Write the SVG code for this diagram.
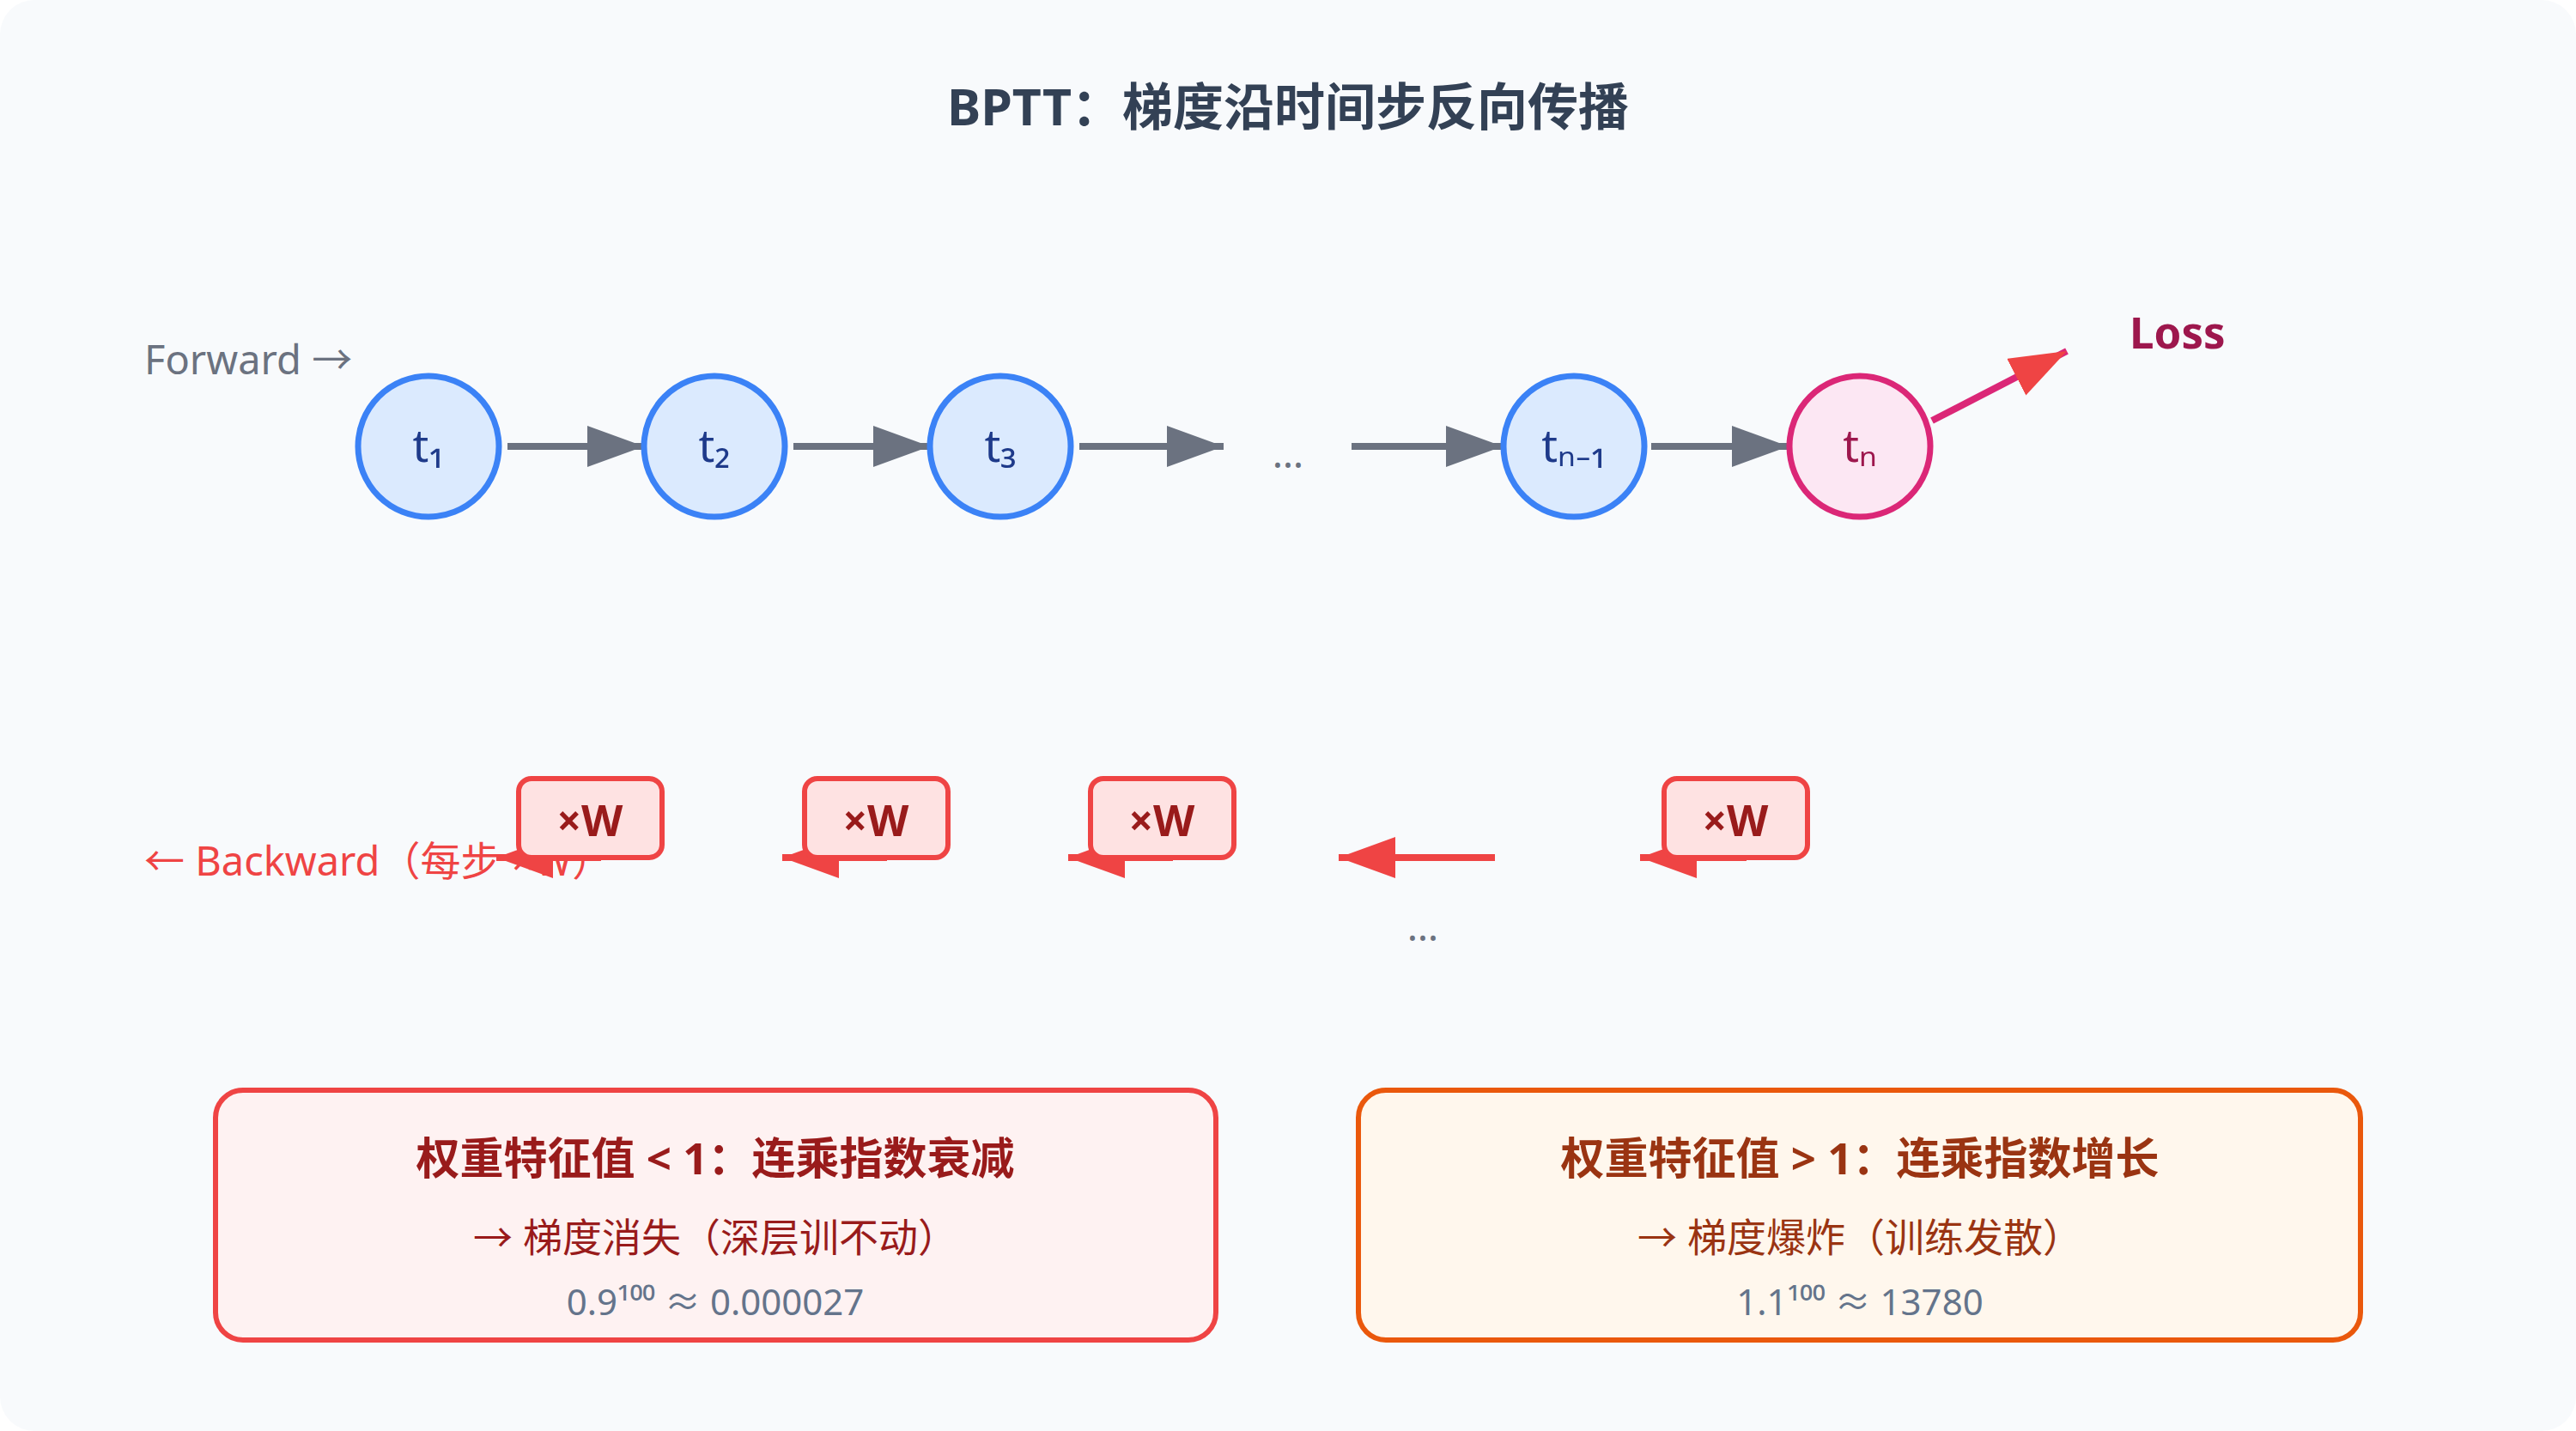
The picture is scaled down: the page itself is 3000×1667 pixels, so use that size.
<svg xmlns="http://www.w3.org/2000/svg" width="3000" height="1667" viewBox="0 0 3000 1667">
<style>
text{font-family:"Noto Sans","Noto Sans CJK SC",sans-serif}
.node circle{fill:#dbeafe;stroke:#3b82f6;stroke-width:7}
.node text{fill:#1e3a8a;font-size:52px;text-anchor:middle}
.fw{stroke:#6b7280;stroke-width:8;fill:none}
.bw{stroke:#ef4444;stroke-width:8;fill:none}
.xw rect{fill:#fee2e2;stroke:#ef4444;stroke-width:6}
.xw text{fill:#991b1b;font-size:50px;font-weight:bold;text-anchor:middle}
</style>
<defs>
<marker id="ag" markerUnits="userSpaceOnUse" markerWidth="70" markerHeight="50" refX="66" refY="24" orient="auto"><path d="M0,0 L66,24 L0,48 Z" fill="#6b7280"/></marker>
<marker id="ar" markerUnits="userSpaceOnUse" markerWidth="70" markerHeight="50" refX="66" refY="24" orient="auto"><path d="M0,0 L66,24 L0,48 Z" fill="#ef4444"/></marker>
</defs>
<rect x="0" y="0" width="3000" height="1667" rx="40" fill="#f8fafc"/>
<text x="1500" y="146" font-size="59" font-weight="bold" fill="#334155" text-anchor="middle">BPTT：梯度沿时间步反向传播</text>
<text x="168" y="436" font-size="47" fill="#6b7280">Forward →</text>
<text x="168" y="1020" font-size="47" fill="#ef4444">← Backward（每步 ×W）</text>
<g id="connectors">
<line class="fw" x1="591" y1="520" x2="750" y2="520" marker-end="url(#ag)"/>
<line class="fw" x1="924" y1="520" x2="1083" y2="520" marker-end="url(#ag)"/>
<line class="fw" x1="1257" y1="520" x2="1425" y2="520" marker-end="url(#ag)"/>
<line class="fw" x1="1574" y1="520" x2="1750" y2="520" marker-end="url(#ag)"/>
<line class="fw" x1="1923" y1="520" x2="2083" y2="520" marker-end="url(#ag)"/>
<line x1="2250" y1="490" x2="2407" y2="409" stroke="#db2777" stroke-width="8" marker-end="url(#ar)"/>
<line class="bw" x1="700" y1="999" x2="578" y2="999" marker-end="url(#ar)"/>
<line class="bw" x1="1033" y1="999" x2="911" y2="999" marker-end="url(#ar)"/>
<line class="bw" x1="1366" y1="999" x2="1244" y2="999" marker-end="url(#ar)"/>
<line class="bw" x1="1741" y1="999" x2="1559" y2="999" marker-end="url(#ar)"/>
<line class="bw" x1="2034" y1="999" x2="1910" y2="999" marker-end="url(#ar)"/>
</g>
<text x="1500" y="545" font-size="46" fill="#6b7280" text-anchor="middle">…</text>
<text x="1657" y="1096" font-size="46" fill="#6b7280" text-anchor="middle">…</text>
<g id="n1" class="node"><circle cx="499" cy="520" r="82"/><text x="499" y="538">t₁</text></g>
<g id="n2" class="node"><circle cx="832" cy="520" r="82"/><text x="832" y="538">t₂</text></g>
<g id="n3" class="node"><circle cx="1165" cy="520" r="82"/><text x="1165" y="538">t₃</text></g>
<g id="n4" class="node"><circle cx="1833" cy="520" r="82"/><text x="1833" y="538">tₙ₋₁</text></g>
<g id="n5" class="node"><circle cx="2166" cy="520" r="82" style="fill:#fce7f3;stroke:#db2777"/><text x="2166" y="538" style="fill:#9d174d">tₙ</text></g>
<text id="loss" x="2480" y="406" font-size="51" font-weight="bold" fill="#9d174d">Loss</text>
<g id="w1" class="xw"><rect x="604" y="907" width="167" height="92" rx="15"/><text x="687" y="974">×W</text></g>
<g id="w2" class="xw"><rect x="937" y="907" width="167" height="92" rx="15"/><text x="1020" y="974">×W</text></g>
<g id="w3" class="xw"><rect x="1270" y="907" width="167" height="92" rx="15"/><text x="1353" y="974">×W</text></g>
<g id="w4" class="xw"><rect x="1938" y="907" width="167" height="92" rx="15"/><text x="2021" y="974">×W</text></g>
<g id="box1">
<rect x="251" y="1270" width="1165" height="291" rx="32" fill="#fef2f2" stroke="#ef4444" stroke-width="6"/>
<text x="833" y="1368" font-size="51" font-weight="bold" fill="#991b1b" text-anchor="middle">权重特征值 &lt; 1：连乘指数衰减</text>
<text x="833" y="1458" font-size="46" fill="#991b1b" text-anchor="middle">→ 梯度消失（深层训不动）</text>
<text x="833" y="1532" font-size="42" fill="#64748b" text-anchor="middle">0.9¹⁰⁰ ≈ 0.000027</text>
</g>
<g id="box2">
<rect x="1582" y="1270" width="1167" height="291" rx="32" fill="#fff7ed" stroke="#ea580c" stroke-width="6"/>
<text x="2166" y="1368" font-size="51" font-weight="bold" fill="#9a3412" text-anchor="middle">权重特征值 &gt; 1：连乘指数增长</text>
<text x="2166" y="1458" font-size="46" fill="#9a3412" text-anchor="middle">→ 梯度爆炸（训练发散）</text>
<text x="2166" y="1532" font-size="42" fill="#64748b" text-anchor="middle">1.1¹⁰⁰ ≈ 13780</text>
</g>
</svg>
